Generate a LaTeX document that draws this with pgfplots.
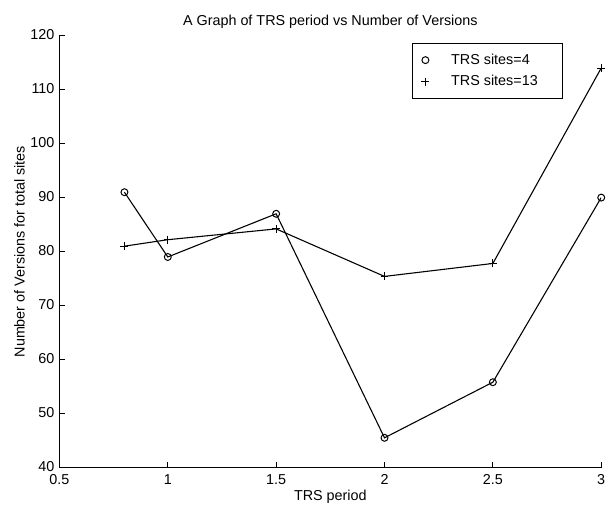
\documentclass[border=0pt]{standalone}
\usepackage{pgfplots}
\pgfplotsset{compat=1.18}
\usepackage{fontspec}
\setmainfont{Liberation Sans}
\begin{document}
\fontsize{14.5pt}{17pt}\selectfont
\begin{tikzpicture}
\begin{axis}[
  at={(0pt,0pt)}, anchor=south west,
  scale only axis,
  width=547pt, height=436pt,
  xmin=0.5, xmax=3, ymin=40, ymax=120,
  xtick={0.5,1,1.5,2,2.5,3},
  xticklabels={0.5,1,1.5,2,2.5,3},
  ytick={40,50,...,120},
  axis x line*=bottom, axis y line*=left,
  axis line style={-, line width=1.2pt},
  tick style={line width=0.9pt, black},
  major tick length=6pt,
  tick align=inside,
  /pgf/number format/assume math mode=true,
  ticklabel style={font=\fontsize{14.5pt}{17pt}\selectfont},
  xticklabel style={yshift=-2pt},
  yticklabel style={yshift=1pt},
  title={A Graph of TRS period vs Number of Versions},
  title style={font=\fontsize{14.5pt}{17pt}\selectfont, yshift=-4pt},
  xlabel={TRS period},
  ylabel={Number of Versions for total sites},
  label style={font=\fontsize{14.5pt}{17pt}\selectfont},
  xlabel style={yshift=4pt},
  ylabel style={yshift=-4pt},
  legend style={at={(axis description cs:0.651,0.984)}, anchor=north west,
    draw=black, line width=0.8pt, font=\fontsize{14.5pt}{17pt}\selectfont,
    inner xsep=6pt, inner ysep=9pt, row sep=5pt},
  legend cell align=left,
  legend image code/.code={\path[draw=none,fill=none] (-7pt,0pt) -- (24pt,0pt); \draw[#1, line width=1pt] plot coordinates {(0pt,0pt)};},
]
\addplot[black, line width=1.1pt, mark=o, mark size=3.5pt, mark options={line width=1pt}] coordinates {
  (0.8,91) (1,79) (1.5,87) (2,45.5) (2.5,55.8) (3,90)
};
\addlegendentry{\makebox[104pt][l]{TRS sites=4}}
\addplot[black, line width=1.1pt, mark=+, mark size=4pt, mark options={line width=1pt}] coordinates {
  (0.8,81) (1,82.2) (1.5,84.2) (2,75.4) (2.5,77.8) (3,114)
};
\addlegendentry{\makebox[104pt][l]{TRS sites=13}}
\end{axis}
\useasboundingbox (-60pt,-35pt) rectangle (550pt,472pt);
\end{tikzpicture}
\end{document}
